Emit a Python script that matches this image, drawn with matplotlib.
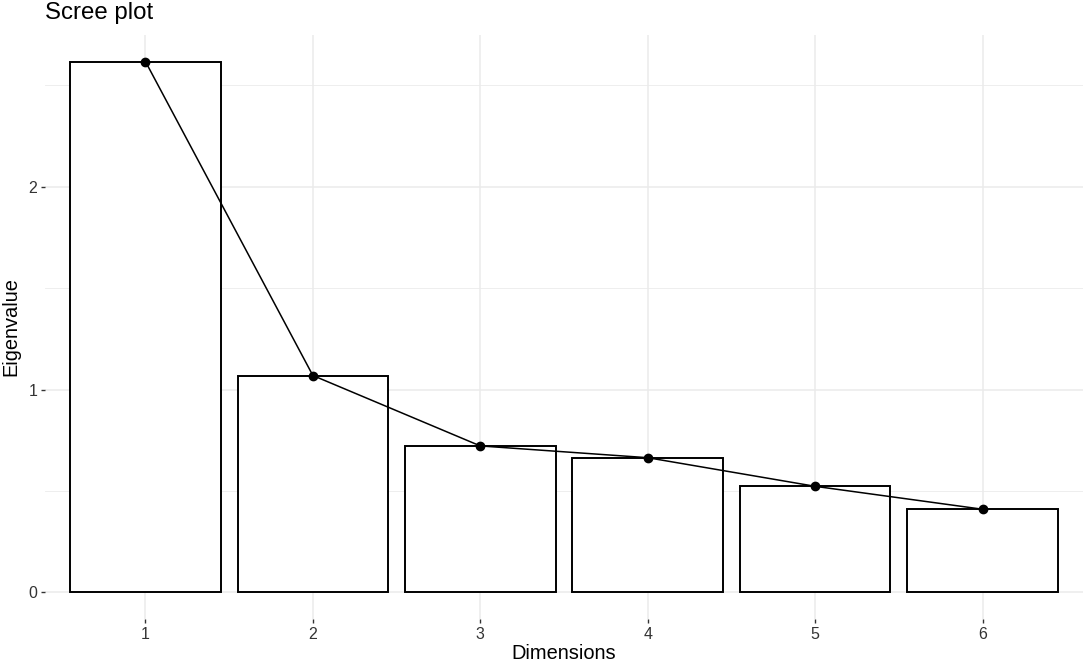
import matplotlib.pyplot as plt
from matplotlib.ticker import MultipleLocator

plt.rcParams["font.family"] = ["Liberation Sans", "DejaVu Sans"]

# scree plot values
dims = [1, 2, 3, 4, 5, 6]
eigenvalues = [2.616, 1.069, 0.722, 0.664, 0.523, 0.410]
y_ticks = [0, 1, 2]

fig = plt.figure(figsize=(10.84, 6.67), dpi=100)
ax = fig.add_axes([45 / 1084, 1 - 619 / 667, 1038 / 1084, 584 / 667])

ax.bar(dims, eigenvalues, width=0.9, color="white", edgecolor="black",
       linewidth=1.4, zorder=2)
ax.plot(dims, eigenvalues, color="black", lw=1.1, marker="o", ms=6, zorder=3)

top = max(eigenvalues)
ax.set_xlim(0.4, 6.6)
ax.set_ylim(-0.05 * top, 1.05 * top)
ax.set_xticks(dims)
ax.set_yticks(y_ticks)
ax.yaxis.set_minor_locator(MultipleLocator(0.5))

ax.grid(which="major", color="#EBEBEB", lw=1.1, zorder=0)
ax.grid(which="minor", axis="y", color="#EBEBEB", lw=0.6, zorder=0)
ax.set_axisbelow(True)
for s in ax.spines.values():
    s.set_visible(False)

ax.tick_params(which="major", length=3, width=1.0, color="#333333",
               labelsize=11.5, labelcolor="#333333", pad=2.5)
ax.tick_params(which="minor", length=0)

ax.set_xlabel("Dimensions", fontsize=14.4, labelpad=2)
ax.set_ylabel("Eigenvalue", fontsize=14.4, labelpad=6)
fig.text(45 / 1084, 1 - 13 / 667, "Scree plot", fontsize=17.3,
         ha="left", va="center")

fig.savefig("out.png", dpi=100)
